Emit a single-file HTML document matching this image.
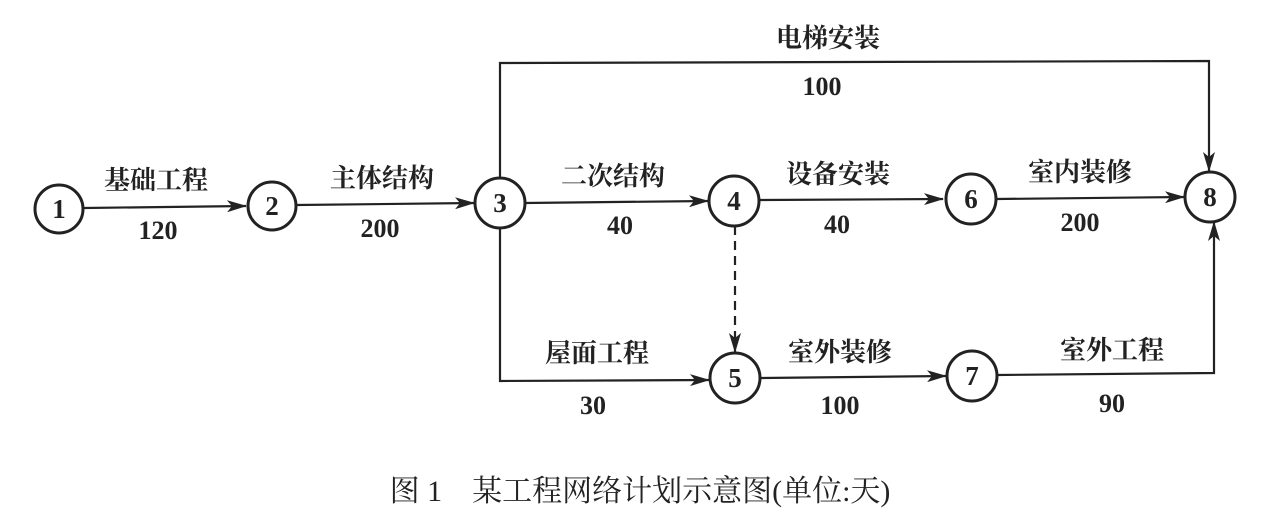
<!DOCTYPE html>
<html><head><meta charset="utf-8"><style>
html,body{margin:0;padding:0;background:#fff;}
svg{display:block}
text{font-family:"Liberation Serif","Noto Serif CJK SC",serif;fill:#222;}
.l{font-family:"Liberation Sans","Noto Sans CJK SC",sans-serif;font-weight:bold;font-size:26px;}
.n{font-size:26px;font-weight:bold;}
</style></head><body>
<svg width="1269" height="531" viewBox="0 0 1269 531" xmlns="http://www.w3.org/2000/svg">
<defs><marker id="a" markerWidth="20" markerHeight="12" refX="19" refY="6" orient="auto" markerUnits="userSpaceOnUse"><path d="M0,0 L20,6 L0,12 L5,6 Z" fill="#222"/></marker></defs>
<g stroke="#222" stroke-width="2.2" fill="none">
<line x1="84" y1="208" x2="246" y2="206" marker-end="url(#a)"/>
<line x1="297" y1="205" x2="474" y2="203" marker-end="url(#a)"/>
<line x1="525" y1="203" x2="708" y2="201" marker-end="url(#a)"/>
<line x1="760" y1="200" x2="943" y2="199" marker-end="url(#a)"/>
<line x1="997" y1="199" x2="1184" y2="197" marker-end="url(#a)"/>
<polyline points="500,178 500,63 1209,61 1209,171" marker-end="url(#a)"/>
<polyline points="500,228 500,381 709,380" marker-end="url(#a)"/>
<line x1="761" y1="378" x2="946" y2="376" marker-end="url(#a)"/>
<polyline points="997,375 1214,373 1214,222" marker-end="url(#a)"/>
<line x1="735" y1="226" x2="735" y2="352" stroke-dasharray="9,6" marker-end="url(#a)"/>
</g>
<g stroke="#222" stroke-width="3" fill="#fff">
<circle cx="59" cy="209" r="24"/><circle cx="272" cy="206" r="24"/><circle cx="500" cy="203" r="25"/>
<circle cx="734" cy="201" r="25"/><circle cx="735" cy="378" r="25"/><circle cx="971" cy="199" r="25"/>
<circle cx="972" cy="376" r="25"/><circle cx="1210" cy="197" r="25"/>
</g>
<g class="n" text-anchor="middle" style="font-size:27px">
<text x="59" y="218">1</text><text x="272" y="215">2</text><text x="500" y="212">3</text><text x="734" y="210">4</text>
<text x="735" y="387">5</text><text x="971" y="208">6</text><text x="972" y="385">7</text><text x="1210" y="206">8</text>
</g>
<g class="l" text-anchor="middle">
<text x="156" y="189">基础工程</text><text x="382" y="187">主体结构</text><text x="613" y="185">二次结构</text>
<text x="838" y="183">设备安装</text><text x="1080" y="181">室内装修</text><text x="828" y="47">电梯安装</text>
<text x="597" y="362">屋面工程</text><text x="840" y="361">室外装修</text><text x="1112" y="359">室外工程</text>
</g>
<g class="n" text-anchor="middle">
<text x="158" y="239">120</text><text x="380" y="237">200</text><text x="620" y="234">40</text><text x="837" y="233">40</text>
<text x="1080" y="231">200</text><text x="822" y="95">100</text><text x="593" y="414">30</text><text x="840" y="414">100</text><text x="1112" y="412">90</text>
</g>
<text x="640" y="501" text-anchor="middle" style="font-size:30px">图 1　某工程网络计划示意图(单位:天)</text>
</svg>
</body></html>
